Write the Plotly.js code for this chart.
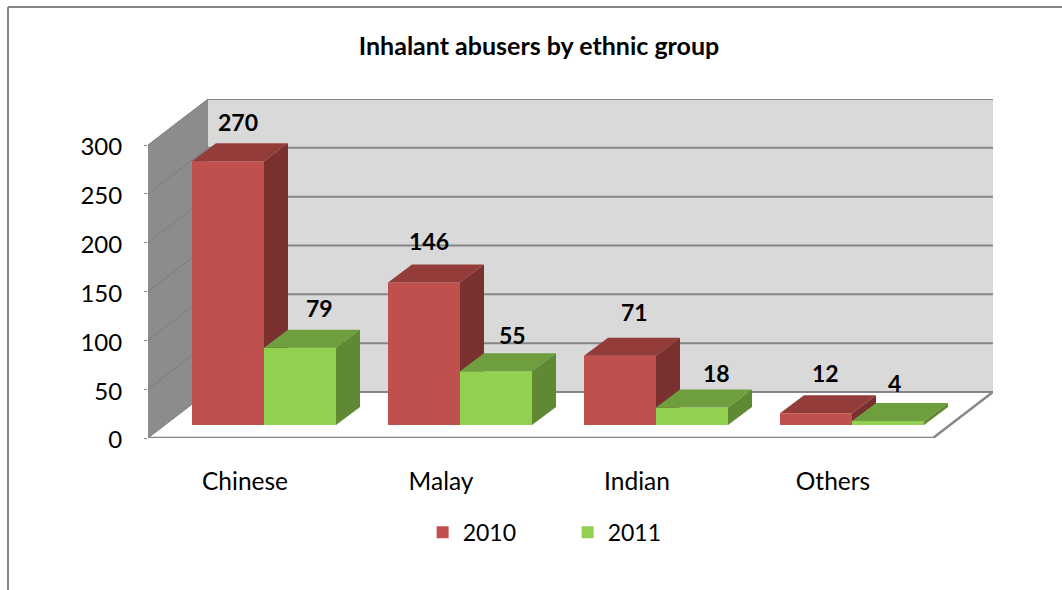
<!DOCTYPE html>
<html>
<head>
<meta charset="utf-8">
<script src="https://cdn.plot.ly/plotly-3.0.1.min.js"></script>
<style>html,body{margin:0;padding:0;background:#fff;overflow:hidden}#chart{width:1062px;height:590px}</style>
</head>
<body>
<div id="chart"></div>
<script>
const categories = ["Chinese", "Malay", "Indian", "Others"];
const series2010 = [270, 146, 71, 12];
const series2011 = [79, 55, 18, 4];
const yTicks = [0, 50, 100, 150, 200, 250, 300];

const FONT = "Lato, 'Open Sans', sans-serif";
const COL = {
  red: {front: "#C0504D", top: "#943C3A", side: "#7A302E"},
  green: {front: "#92D050", top: "#6E9E3E", side: "#5F8A33"},
  wall: "#D9D9D9", leftWall: "#8C8C8C", grid: "#868686", gridLeft: "#7E7E7E"
};

// pixel calibration of the oblique projection
const L = 148, R = 993, T = 99, B = 438;
const pxPerCat = 196, pxPerUnit = 293 / 300;
const ux = p => p / pxPerCat, uy = p => p / pxPerUnit;
const xRange = [ux(L - 264), ux(R - 264)];
const yRange = [0, uy(B - T)];
const wallDX = ux(60), wallDY = uy(46);
const barW = ux(72), baseY = uy(13), depthX = ux(24), depthY = uy(18);
const labelShift = ux(-19);
const xIdx = categories.map((_, i) => i);

function faceTrace(polys, color, xa, ya) {
  const x = [], y = [];
  polys.forEach(p => { p.forEach(q => { x.push(q[0]); y.push(q[1]); }); x.push(p[0][0], null); y.push(p[0][1], null); });
  return {type: "scatter", mode: "lines", x, y, xaxis: xa, yaxis: ya, fill: "toself", fillcolor: color,
          line: {width: 0, color: color}, hoverinfo: "skip", showlegend: false, cliponaxis: false};
}
function lineTrace(x, y, color, width, xa, ya) {
  return {type: "scatter", mode: "lines", x, y, xaxis: xa, yaxis: ya, line: {color, width},
          hoverinfo: "skip", showlegend: false, cliponaxis: false};
}
function seriesTraces(name, values, offset, c, xa, ya) {
  const centers = xIdx.map(i => i + offset);
  const bar = {type: "bar", name, x: centers, y: values, base: values.map(() => baseY), width: barW,
               marker: {color: c.front, line: {width: 0}}, xaxis: xa, yaxis: ya, hoverinfo: "name+y"};
  const tops = values.map((v, i) => {
    const l = centers[i] - barW / 2, r = centers[i] + barW / 2, t = baseY + v;
    return [[l, t], [r, t], [r + depthX, t + depthY], [l + depthX, t + depthY]];
  });
  const sides = values.map((v, i) => {
    const r = centers[i] + barW / 2, t = baseY + v;
    return [[r, baseY], [r, t], [r + depthX, t + depthY], [r + depthX, baseY + depthY]];
  });
  return [bar, faceTrace(tops, c.top, xa, ya), faceTrace(sides, c.side, xa, ya)];
}

const x0 = xRange[0], x1 = xRange[1];
const xBack0 = x0 + wallDX, xFront1 = x1 - wallDX;
const traces = [];
// walls
traces.push(faceTrace([[[xBack0, wallDY], [x1, wallDY], [x1, wallDY + 300], [xBack0, wallDY + 300]]], COL.wall, "x", "y"));
traces.push(faceTrace([[[x0, 0], [xBack0, wallDY], [xBack0, wallDY + 300], [x0, 300]]], COL.leftWall, "x", "y"));
// gridlines
yTicks.forEach(v => {
  traces.push(lineTrace([xBack0, x1], [v + wallDY, v + wallDY], COL.grid, 2, "x", "y"));
  traces.push(lineTrace([x0, xBack0], [v, v + wallDY], COL.gridLeft, 1, "x", "y"));
});
// floor edges
traces.push(lineTrace([x0, xFront1, x1], [0, 0, wallDY], COL.grid, 2.5, "x", "y"));
// bars
traces.push(...seriesTraces("2010", series2010, -barW / 2, COL.red, "x2", "y2"));
traces.push(...seriesTraces("2011", series2011, barW / 2, COL.green, "x3", "y3"));

// data labels: hand-placed in the reference
const shiftX2010 = [10, 5, 14, 9], shiftY2010 = [39, 41, 44, 40];
const shiftX2011 = [19, 16, 24, 6], shiftY2011 = [40, 36, 34, 38];
const annotations = [];
function addLabels(values, offset, sx, sy) {
  values.forEach((v, i) => annotations.push({
    x: i + offset, y: baseY + v, xref: "x3", yref: "y3", text: "<b>" + v + "</b>", showarrow: false,
    xshift: sx[i], yshift: sy[i], xanchor: "center", yanchor: "middle",
    font: {family: FONT, size: 23, color: "#000"}
  }));
}
addLabels(series2010, -barW / 2, shiftX2010, shiftY2010);
addLabels(series2011, barW / 2, shiftX2011, shiftY2011);

const W = R - L, H = B - T;
const frameX = (8 - L) / W, frameY = (B - 7) / H, frameB = (B - 590) / H, frameR = (1062 - L) / W;
const hidden = {visible: false, fixedrange: true};
const layout = {
  width: 1062, height: 590,
  margin: {l: L, r: 1062 - R, t: T, b: 590 - B, pad: 0},
  paper_bgcolor: "#fff", plot_bgcolor: "rgba(0,0,0,0)",
  font: {family: FONT, color: "#000"},
  title: {text: "<b>Inhalant abusers by ethnic group</b>", x: 539 / 1062, y: 1 - 46 / 590,
          xanchor: "center", yanchor: "middle", font: {family: FONT, size: 25, color: "#000"}},
  barmode: "overlay",
  showlegend: true,
  legend: {orientation: "h", x: 0.325, y: -0.278, xanchor: "left", yanchor: "middle", traceorder: "normal",
           bgcolor: "rgba(0,0,0,0)",
           font: {family: FONT, size: 23, color: "#000"}, entrywidth: 100, entrywidthmode: "pixels", itemclick: false, itemdoubleclick: false},
  xaxis: {range: xRange, showgrid: false, zeroline: false, showline: false, fixedrange: true,
          tickmode: "array", tickvals: xIdx.map(i => i + labelShift), ticktext: categories, ticks: "", ticklabelstandoff: 26,
          tickfont: {family: FONT, size: 24.5, color: "#000"}},
  yaxis: {range: yRange, showgrid: false, zeroline: false, showline: false, fixedrange: true,
          tickmode: "array", tickvals: yTicks, ticktext: yTicks.map(String), ticks: "outside", ticklen: 3, tickcolor: COL.grid, tickwidth: 1,
          ticklabelstandoff: 17, ticklabelshift: 2, tickfont: {family: FONT, size: 24, color: "#000"}},
  xaxis2: Object.assign({range: xRange, overlaying: "x", anchor: "y2"}, hidden),
  yaxis2: Object.assign({range: yRange, overlaying: "y", anchor: "x2"}, hidden),
  xaxis3: Object.assign({range: xRange, overlaying: "x", anchor: "y3"}, hidden),
  yaxis3: Object.assign({range: yRange, overlaying: "y", anchor: "x3"}, hidden),
  annotations,
  shapes: [
    {type: "line", xref: "paper", yref: "paper", x0: frameX, x1: frameX, y0: frameB, y1: frameY, line: {color: COL.grid, width: 2}},
    {type: "line", xref: "paper", yref: "paper", x0: frameX, x1: frameR, y0: frameY, y1: frameY, line: {color: COL.grid, width: 2}}
  ]
};
Plotly.newPlot("chart", traces, layout, {displayModeBar: false});
</script>
</body>
</html>
